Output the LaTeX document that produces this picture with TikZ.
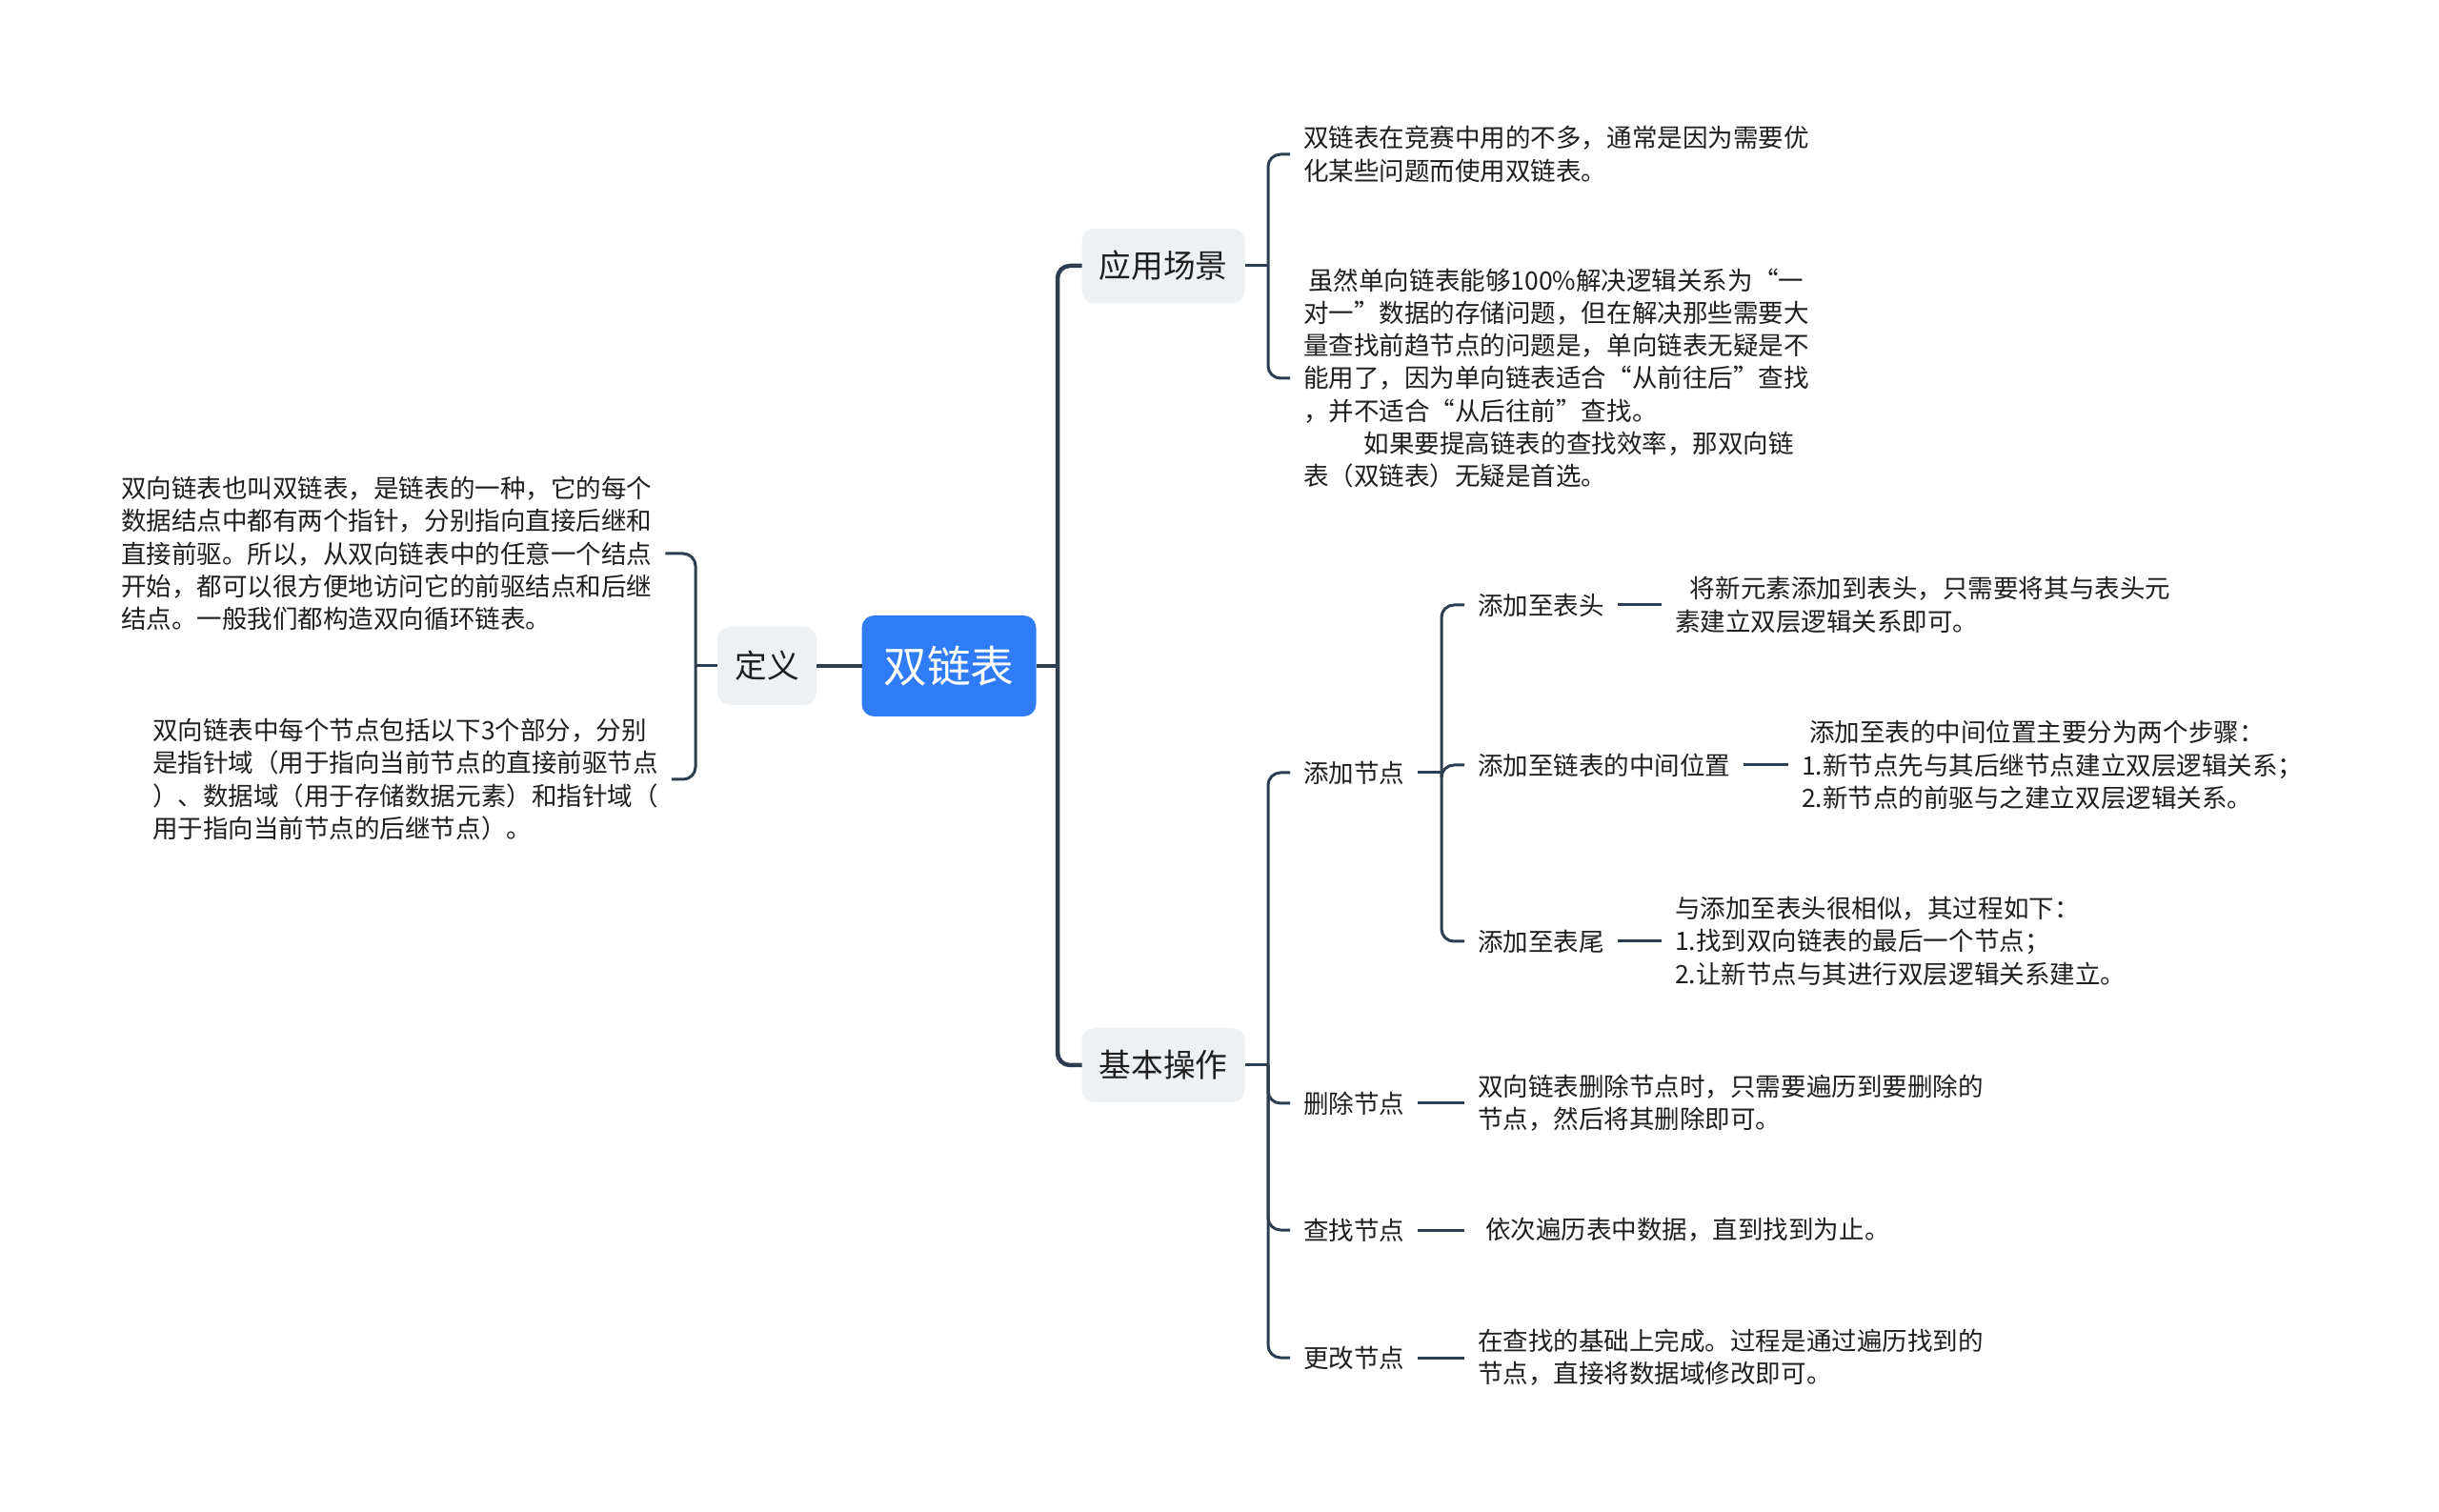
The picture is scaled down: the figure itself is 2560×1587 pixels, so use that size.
\documentclass[tikz,border=0pt]{standalone}
\usepackage{fontspec}
\setmainfont{Noto Sans CJK SC}
\definecolor{ln}{HTML}{2C3E50}
\definecolor{boxg}{HTML}{EEF1F4}
\definecolor{rootb}{HTML}{2F7CF6}
\definecolor{txt}{HTML}{1F1F1F}
\begin{document}
\begin{tikzpicture}[x=0.1mm,y=-0.1mm,
  every node/.style={inner sep=0pt, outer sep=0pt, text=txt},
  txtnode/.style={font=\fontsize{7.55}{9.75}\selectfont, align=left, inner sep=4pt},
  topic/.style={fill=boxg, rounded corners=1.3mm, font=\fontsize{9.6}{12}\selectfont, minimum width=17.1mm, minimum height=7.8mm},
  rootbox/.style={fill=rootb, text=white, rounded corners=1.3mm, font=\fontsize{13}{15}\selectfont, minimum width=18.3mm, minimum height=10.6mm},
  lone/.style={draw=ln, line width=0.45mm},
  ltwo/.style={draw=ln, line width=0.3mm},
  hook/.style={rounded corners=1.3mm}
]
\fill[white] (0,0) rectangle (2560,1587);
\useasboundingbox (0,0) rectangle (2560,1587);

% main nodes
\node[rootbox] (root) at (996,699) {双链表};
\node[topic, minimum width=10.4mm, minimum height=8.2mm] (def) at (805,699) {定义};
\node[topic] (app) at (1221,279) {应用场景};
\node[topic] (ops) at (1221,1118) {基本操作};

% definition texts
\node[txtnode, anchor=west] (t1) at (113,581) {双向链表也叫双链表，是链表的一种，它的每个\\数据结点中都有两个指针，分别指向直接后继和\\直接前驱。所以，从双向链表中的任意一个结点\\开始，都可以很方便地访问它的前驱结点和后继\\结点。一般我们都构造双向循环链表。};
\node[txtnode, anchor=west] (t2) at (146,818) {双向链表中每个节点包括以下3个部分，分别\\是指针域（用于指向当前节点的直接前驱节点\\）、数据域（用于存储数据元素）和指针域（\\用于指向当前节点的后继节点）。};

% application texts
\node[txtnode, anchor=west] (ta) at (1354,162) {双链表在竞赛中用的不多，通常是因为需要优\\化某些问题而使用双链表。};
\node[txtnode, anchor=west] (tb) at (1354,397) {\hspace*{0.2em}虽然单向链表能够100\%解决逻辑关系为“一\\对一”数据的存储问题，但在解决那些需要大\\量查找前趋节点的问题是，单向链表无疑是不\\能用了，因为单向链表适合“从前往后”查找\\，并不适合“从后往前”查找。\\\hspace*{2.4em}如果要提高链表的查找效率，那双向链\\表（双链表）无疑是首选。};

% operations
\node[txtnode, anchor=west] (ladd) at (1354,811) {添加节点};
\node[txtnode, anchor=west] (ldel) at (1354,1158) {删除节点};
\node[txtnode, anchor=west] (lfind) at (1354,1291) {查找节点};
\node[txtnode, anchor=west] (lmod) at (1354,1425) {更改节点};

\node[txtnode, anchor=west] (mhead) at (1537,635) {添加至表头};
\node[txtnode, anchor=west] (mmid) at (1537,803) {添加至链表的中间位置};
\node[txtnode, anchor=west] (mtail) at (1537,988) {添加至表尾};

\node[txtnode, anchor=west] (dhead) at (1744,635) {\hspace*{0.6em}将新元素添加到表头，只需要将其与表头元\\素建立双层逻辑关系即可。};
\node[txtnode, anchor=west] (dmid) at (1877,803) {\hspace*{0.3em}添加至表的中间位置主要分为两个步骤：\\1.新节点先与其后继节点建立双层逻辑关系；\\2.新节点的前驱与之建立双层逻辑关系。};
\node[txtnode, anchor=west] (dtail) at (1744,988) {与添加至表头很相似，其过程如下：\\1.找到双向链表的最后一个节点；\\2.让新节点与其进行双层逻辑关系建立。};

\node[txtnode, anchor=west] (edel) at (1537,1158) {双向链表删除节点时，只需要遍历到要删除的\\节点，然后将其删除即可。};
\node[txtnode, anchor=west] (efind) at (1537,1291) {\hspace*{0.3em}依次遍历表中数据，直到找到为止。};
\node[txtnode, anchor=west] (emod) at (1537,1425) {在查找的基础上完成。过程是通过遍历找到的\\节点，直接将数据域修改即可。};

% connectors
\draw[lone] (root.west) -- (def.east);
\coordinate (rk) at (1110,699);
\draw[lone] (root.east) -- (rk);
\draw[lone,hook] (rk) |- (app.west);
\draw[lone,hook] (rk) |- (ops.west);

\coordinate (dk) at (730,699);
\draw[ltwo] (def.west) -- (dk);
\draw[ltwo,hook] (dk) |- (t1.east);
\draw[ltwo,hook] (dk) |- (t2.east);

\coordinate (ak) at (1331,279);
\draw[ltwo] (app.east) -- (ak);
\draw[ltwo,hook] (ak) |- (ta.west);
\draw[ltwo,hook] (ak) |- (tb.west);

\coordinate (ok) at (1331,1118);
\draw[ltwo] (ops.east) -- (ok);
\draw[ltwo,hook] (ok) |- (ladd.west);
\draw[ltwo,hook] (ok) |- (ldel.west);
\draw[ltwo,hook] (ok) |- (lfind.west);
\draw[ltwo,hook] (ok) |- (lmod.west);

\coordinate (adk) at (1513,811);
\draw[ltwo] (ladd.east) -- (adk);
\draw[ltwo,hook] (adk) |- (mhead.west);
\draw[ltwo,hook] (adk) |- (mmid.west);
\draw[ltwo,hook] (adk) |- (mtail.west);

\draw[ltwo] (mhead.east) -- (dhead.west);
\draw[ltwo] (mmid.east) -- (dmid.west);
\draw[ltwo] (mtail.east) -- (dtail.west);
\draw[ltwo] (ldel.east) -- (edel.west);
\draw[ltwo] (lfind.east) -- (efind.west);
\draw[ltwo] (lmod.east) -- (emod.west);
\end{tikzpicture}
\end{document}
